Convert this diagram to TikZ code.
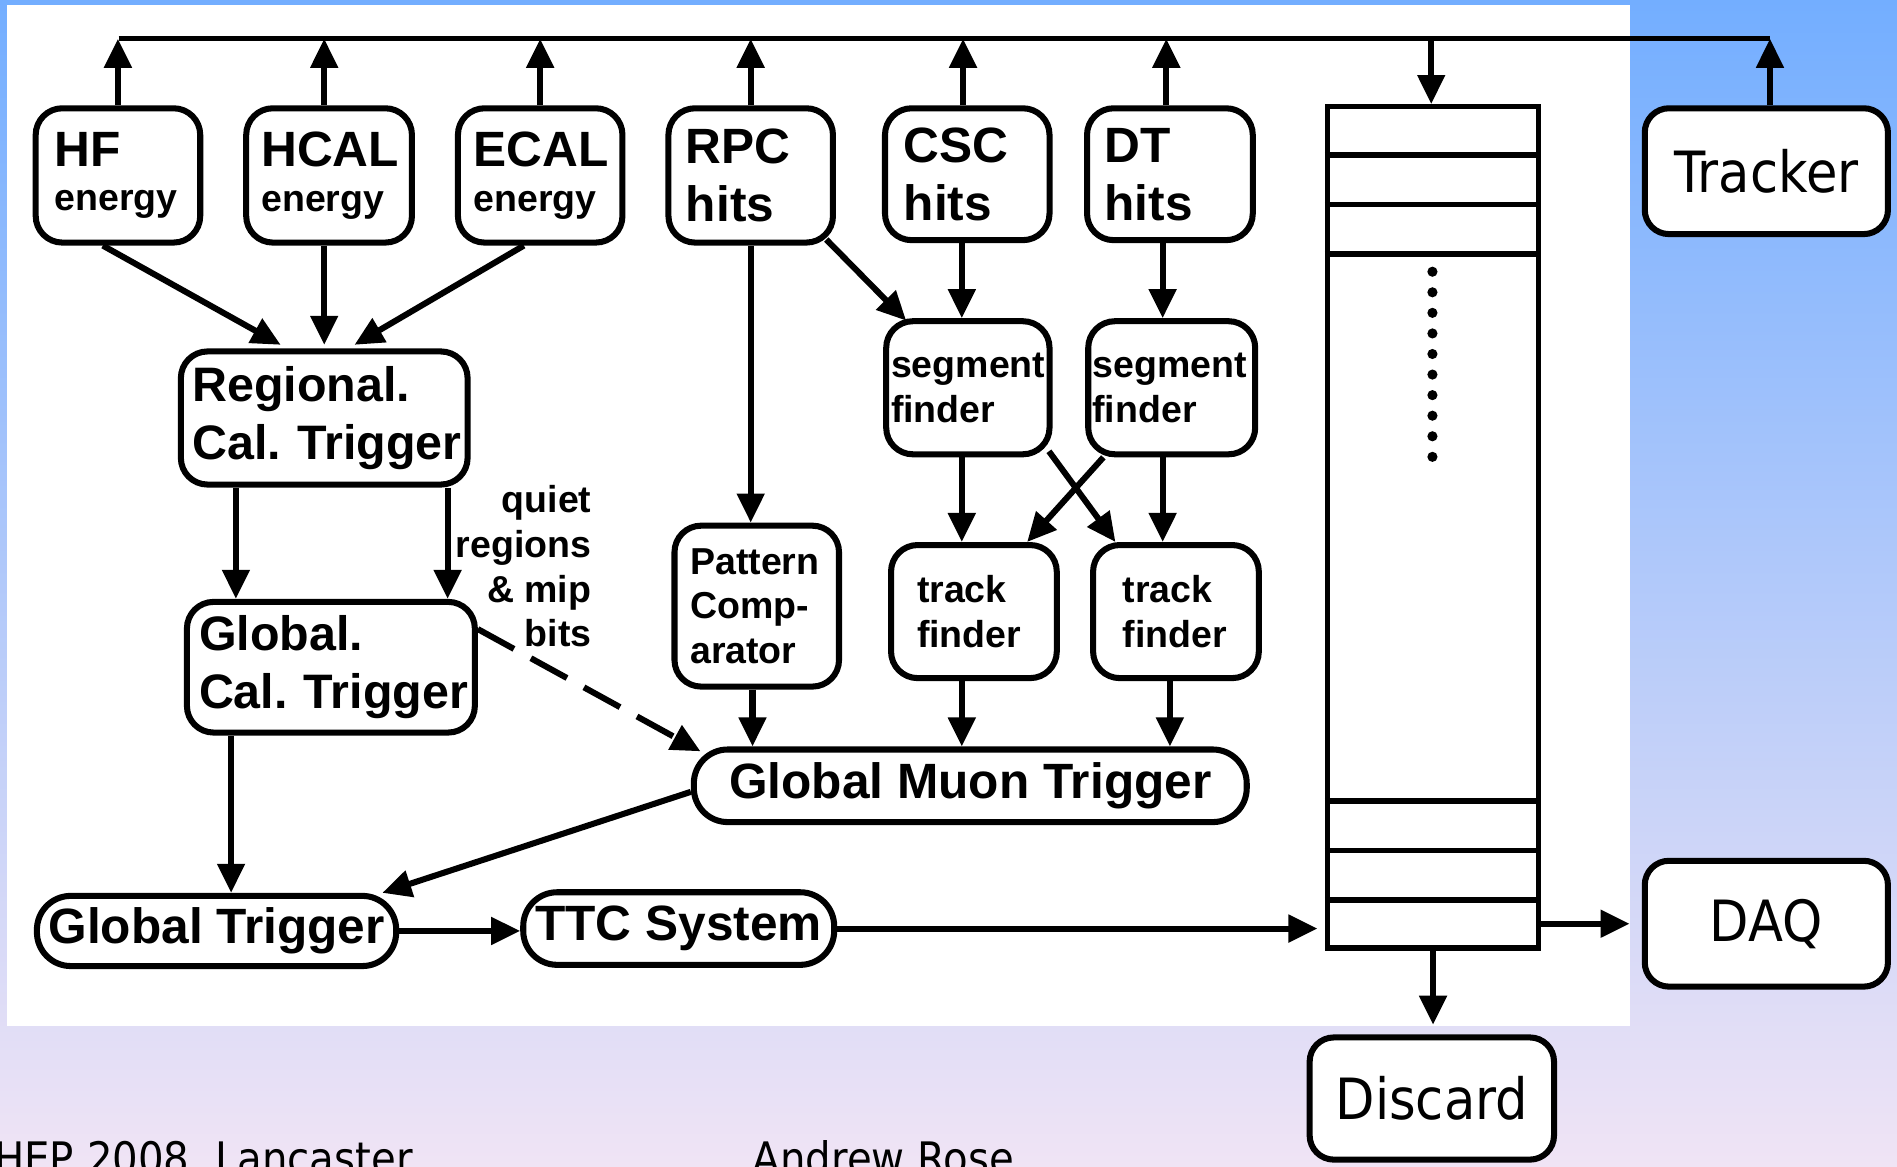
\documentclass[tikz,border=0pt]{standalone}
\usepackage{fontspec}
\usepackage{tikz}
\usetikzlibrary{arrows.meta}

\newfontfamily\diafont{Liberation Sans}
\newfontfamily\slidefont{DejaVu Sans}[FakeStretch=0.9]
\newcommand{\bigtxt}{\diafont\bfseries\fontsize{41}{48}\selectfont}
\newcommand{\smalltxt}{\diafont\bfseries\fontsize{31}{37}\selectfont}
\newcommand{\slidetxt}{\slidefont\fontsize{47}{56}\selectfont}
\frenchspacing

\definecolor{bgtop}{RGB}{115,174,255}
\definecolor{bgmid}{RGB}{168,202,242}
\definecolor{bgbot}{RGB}{240,228,245}

\begin{document}
\begin{tikzpicture}[x=1pt, y=-1pt,
        blk/.style={draw, line width=5pt, rounded corners=22pt, fill=white, align=left, inner ysep=0pt},
        pill/.style={draw, line width=5pt, rounded corners=28pt, fill=white, inner sep=0pt},
        outbox/.style={draw, line width=5pt, rounded corners=20pt, fill=white, inner sep=0pt, font=\slidetxt},
        arr/.style={line width=5pt, -{Triangle[length=24pt, width=22pt]}}]
        \useasboundingbox (0,0) rectangle (1568,964);
        \clip (0,0) rectangle (1568,964);
        \shade[top color=bgtop, middle color=bgmid, bottom color=bgbot] (0,0) rectangle (1568,964);
        \fill[white] (6,4) rectangle (1347,848);

        \coordinate (busL) at (98,32);
        \coordinate (busR) at (1463,32);

        % detector inputs
        \node (hf) [blk, font=\smalltxt, inner xsep=15.5pt, text width=105pt, minimum height=111pt] at (97.5,145) {{\bigtxt HF}\\energy};
        \node (hcal) [blk, font=\smalltxt, inner xsep=12.5pt, text width=112pt, minimum height=111pt] at (272,145) {{\bigtxt HCAL}\\energy};
        \node (ecal) [blk, font=\smalltxt, inner xsep=13pt, text width=110pt, minimum height=111pt] at (446.5,145) {{\bigtxt ECAL}\\energy};
        \node (rpc) [blk, font=\bigtxt, inner xsep=14.5pt, text width=107pt, minimum height=111pt] at (620.5,145) {RPC\\hits};
        \node (csc) [blk, font=\bigtxt, inner xsep=15.5pt, text width=105pt, minimum height=109pt] at (799.5,144) {CSC\\hits};
        \node (dt) [blk, font=\bigtxt, inner xsep=14.5pt, text width=108pt, minimum height=109pt] at (967,144) {DT\\hits};
        \node (tracker) [outbox, minimum width=201pt, minimum height=104pt] at (1460,141.5) {Tracker};

        % pipeline buffer
        \node (buf) [draw, line width=4.5pt, fill=white, inner sep=0pt, minimum width=174.5pt, minimum height=695.5pt] at (1184.5,436) {};
        \foreach \yy in {128,169,210,662,703,744}
            \draw[line width=4.5pt] (buf.west |- 0,\yy) -- (buf.east |- 0,\yy);
        \foreach \k in {0,...,9}
            \fill (1184,224.6+17*\k) circle (4.2pt);

        \node (regional) [blk, font=\bigtxt\fontsize{40}{48}\selectfont, inner xsep=9.5pt, text width=218pt, minimum height=110pt] at (268,345.5) {Regional.\\\mbox{Cal. Trigger}};
        \node (seg1) [blk, font=\smalltxt, inner xsep=4pt, text width=127pt, minimum height=110pt] at (800,320.5) {segment\\finder};
        \node (seg2) [blk, font=\smalltxt, inner xsep=3.5pt, text width=131pt, minimum height=110pt] at (968.5,320.5) {segment\\finder};
        \node (pattern) [blk, font=\smalltxt, inner xsep=13pt, text width=110pt, minimum height=133pt] at (625.5,501) {Pattern\\Comp-\\arator};
        \node (trk1) [blk, font=\smalltxt, inner xsep=21.5pt, text width=94pt, minimum height=110pt] at (805,505.5) {track\\finder};
        \node (trk2) [blk, font=\smalltxt, inner xsep=24.5pt, text width=88pt, minimum height=110pt] at (972,505.5) {track\\finder};
        \node (gcal) [blk, font=\bigtxt\fontsize{40}{48}\selectfont, inner xsep=10pt, text width=218pt, minimum height=108pt] at (273.5,551.5) {Global.\\\mbox{Cal. Trigger}};
        \node (gmt) [pill, font=\bigtxt\fontsize{41}{48}\selectfont, minimum width=457pt, minimum height=60pt] at (802,649.5) {Global Muon Trigger};
        \node (gt) [pill, font=\bigtxt, minimum width=297pt, minimum height=58pt] at (179,769.5) {Global Trigger};
        \node (ttc) [pill, font=\bigtxt, minimum width=257pt, minimum height=60pt] at (561,767.5) {TTC System};
        \node (daq) [outbox, minimum width=201pt, minimum height=104pt] at (1460,763.5) {DAQ};
        \node (discard) [outbox, minimum width=202pt, minimum height=101pt] at (1183.5,908) {Discard};

        \node (quiet) [font=\smalltxt, align=right, inner sep=0pt, anchor=north east] at (489,401) {quiet\\regions\\\& mip\\bits};

        % readout bus
        \draw[line width=4.5pt] (busL) -- (busR);
        \draw[arr] (hf.north) -- (hf.north |- busL);
        \draw[arr] ([xshift=-4pt]hcal.north) -- ([xshift=-4pt]hcal.north |- busL);
        \draw[arr] (ecal.north) -- (ecal.north |- busL);
        \draw[arr] (rpc.north) -- (rpc.north |- busL);
        \draw[arr] ([xshift=-3.5pt]csc.north) -- ([xshift=-3.5pt]csc.north |- busL);
        \draw[arr] ([xshift=-3pt]dt.north) -- ([xshift=-3pt]dt.north |- busL);
        \draw[arr] ([xshift=3pt]tracker.north) -- ([xshift=3pt]tracker.north |- busR);
        \draw[arr] ([xshift=-1.5pt]buf.north |- busL) -- ([xshift=-1.5pt]buf.north);

        % calorimeter path
        \draw[arr] ([xshift=-12.5pt]hf.south) -- ([xshift=-36pt,yshift=3pt]regional.north);
        \draw[arr] (regional.north |- hcal.south) -- ([yshift=3pt]regional.north);
        \draw[arr] ([xshift=-13.5pt]ecal.south) -- ([xshift=25pt,yshift=3pt]regional.north);
        \draw[arr] ([xshift=-73pt]regional.south) -- ([xshift=-73pt]regional.south |- gcal.north);
        \draw[arr] ([xshift=102pt]regional.south) -- ([xshift=102pt]regional.south |- gcal.north);
        \draw[arr, dash pattern=on 34pt off 16pt] ([yshift=-25pt]gcal.north east) -- ([xshift=8pt,yshift=-4pt]gmt.north west);
        \draw[arr] ([xshift=-82.5pt]gcal.south) -- ([xshift=-82.5pt]gcal.south |- gt.north);

        % muon path
        \draw[arr] (rpc.south) -- (rpc.south |- pattern.north);
        \draw[arr] ([xshift=-8pt,yshift=5pt]rpc.south east) -- ([xshift=19pt,yshift=-2pt]seg1.north west);
        \draw[arr] ([xshift=-4.5pt]csc.south) -- ([xshift=-4.5pt]csc.south |- seg1.north);
        \draw[arr] ([xshift=-6pt]dt.south) -- ([xshift=-6pt]dt.south |- seg2.north);
        \draw[arr] ([xshift=-5pt]seg1.south) -- ([xshift=-5pt]seg1.south |- trk1.north);
        \draw[arr] ([xshift=-7.5pt]seg2.south) -- ([xshift=-7.5pt]seg2.south |- trk2.north);
        \draw[arr] ([xshift=-3pt,yshift=5pt]seg1.south east) -- ([xshift=21pt]trk2.north west);
        \draw[arr] ([xshift=15pt]seg2.south west) -- ([xshift=-27pt]trk1.north east);
        \draw[arr] ([xshift=-3.5pt]pattern.south) -- ([xshift=-3.5pt]pattern.south |- gmt.north);
        \draw[arr] ([xshift=-10pt]trk1.south) -- ([xshift=-10pt]trk1.south |- gmt.north);
        \draw[arr] ([xshift=-5pt]trk2.south) -- ([xshift=-5pt]trk2.south |- gmt.north);

        % decision and readout
        \draw[arr] ([yshift=-5pt]gmt.west) -- ([xshift=-14pt]gt.north east);
        \draw[arr] (gt.east) -- (gt.east -| ttc.west);
        \draw[arr, shorten >=6pt] (ttc.east) -- (ttc.east -| buf.west);
        \draw[arr, shorten >=10pt] (buf.east |- daq.west) -- (daq.west);
        \draw[arr, shorten >=8pt] (buf.south) -- (buf.south |- discard.north);

        \node (venue) [font=\slidefont\fontsize{37}{44}\selectfont, anchor=base west, inner sep=0pt] at (-5,971) {HEP 2008, Lancaster};
        \node (speaker) [font=\slidefont\fontsize{37}{44}\selectfont, anchor=base west, inner sep=0pt] at (622,971) {Andrew Rose};
    \end{tikzpicture}
\end{document}
